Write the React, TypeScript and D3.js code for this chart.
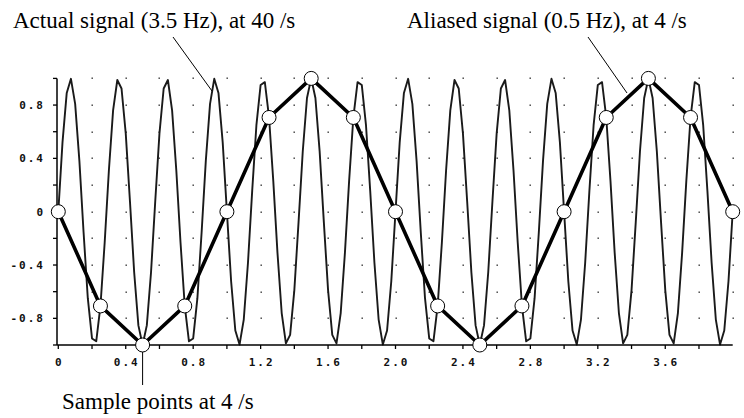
import React from "react";
import * as d3 from "d3";

// Actual signal (3.5 Hz) sampled at 40 /s, t = 0 .. 4 s
const actualValues: number[] = [
  0, 0.522, 0.891, 0.997, 0.809, 0.383, -0.156, -0.649, -0.951, -0.972,
  -0.707, -0.233, 0.309, 0.76, 0.988, 0.924, 0.588, 0.078, -0.454, -0.853,
  -1, -0.853, -0.454, 0.078, 0.588, 0.924, 0.988, 0.76, 0.309, -0.233,
  -0.707, -0.972, -0.951, -0.649, -0.156, 0.383, 0.809, 0.997, 0.891, 0.522,
  0, -0.522, -0.891, -0.997, -0.809, -0.383, 0.156, 0.649, 0.951, 0.972,
  0.707, 0.233, -0.309, -0.76, -0.988, -0.924, -0.588, -0.078, 0.454, 0.853,
  1, 0.853, 0.454, -0.078, -0.588, -0.924, -0.988, -0.76, -0.309, 0.233,
  0.707, 0.972, 0.951, 0.649, 0.156, -0.383, -0.809, -0.997, -0.891, -0.522,
  0, 0.522, 0.891, 0.997, 0.809, 0.383, -0.156, -0.649, -0.951, -0.972,
  -0.707, -0.233, 0.309, 0.76, 0.988, 0.924, 0.588, 0.078, -0.454, -0.853,
  -1, -0.853, -0.454, 0.078, 0.588, 0.924, 0.988, 0.76, 0.309, -0.233,
  -0.707, -0.972, -0.951, -0.649, -0.156, 0.383, 0.809, 0.997, 0.891, 0.522,
  0, -0.522, -0.891, -0.997, -0.809, -0.383, 0.156, 0.649, 0.951, 0.972,
  0.707, 0.233, -0.309, -0.76, -0.988, -0.924, -0.588, -0.078, 0.454, 0.853,
  1, 0.853, 0.454, -0.078, -0.588, -0.924, -0.988, -0.76, -0.309, 0.233,
  0.707, 0.972, 0.951, 0.649, 0.156, -0.383, -0.809, -0.997, -0.891, -0.522,
  0,
];
const actualRate = 40;

// Samples at 4 /s (aliased 0.5 Hz signal)
const sampleValues: number[] = [
  0, -0.707, -1, -0.707, 0, 0.707, 1, 0.707, 0, -0.707, -1, -0.707, 0, 0.707,
  1, 0.707, 0,
];
const sampleRate = 4;

const xTickValues: number[] = [
  0, 0.2, 0.4, 0.6, 0.8, 1.0, 1.2, 1.4, 1.6, 1.8, 2.0, 2.2, 2.4, 2.6, 2.8, 3.0,
  3.2, 3.4, 3.6, 3.8,
];
const xLabelValues: number[] = [0, 0.4, 0.8, 1.2, 1.6, 2.0, 2.4, 2.8, 3.2, 3.6];
const xLabelTexts: string[] = ["0", "0.4", "0.8", "1.2", "1.6", "2.0", "2.4", "2.8", "3.2", "3.6"];
const yTickValues: number[] = [-1, -0.8, -0.6, -0.4, -0.2, 0, 0.2, 0.4, 0.6, 0.8, 1];
const yLabelValues: number[] = [0.8, 0.4, 0, -0.4, -0.8];
const yLabelTexts: string[] = ["0.8", "0.4", "0", "-0.4", "-0.8"];
const gridX: number[] = [
  0.2, 0.4, 0.6, 0.8, 1.0, 1.2, 1.4, 1.6, 1.8, 2.0, 2.2, 2.4, 2.6, 2.8, 3.0, 3.2,
  3.4, 3.6, 3.8, 4.0,
];
const gridY: number[] = [-0.8, -0.6, -0.4, -0.2, 0, 0.2, 0.4, 0.6, 0.8, 1.0];

const actualLabel = "Actual signal (3.5 Hz), at 40 /s";
const aliasLabel = "Aliased signal (0.5 Hz), at 4 /s";
const sampleLabel = "Sample points at 4 /s";

export default function App() {
  const W = 744;
  const H = 418;
  const x = d3.scaleLinear().domain([0, 4]).range([58.3, 732.7]);
  const y = d3.scaleLinear().domain([-1, 1]).range([345, 78.4]);

  const actualLine = d3
    .line<number>()
    .x((_, i) => x(i / actualRate))
    .y((d) => y(d));
  const sampleLine = d3
    .line<number>()
    .x((_, i) => x(i / sampleRate))
    .y((d) => y(d));

  const axisX = x(0) - 1.3;
  const axisY = y(-1);
  const serif = "'Liberation Serif', 'Times New Roman', serif";
  const mono = "'DejaVu Sans Mono', monospace";

  return (
    <svg
      width={W}
      height={H}
      style={{ position: "absolute", left: 0, top: 0, background: "#fff" }}
    >
      <rect x={0} y={0} width={W} height={H} fill="#fff" />
      {/* grid dots */}
      {gridX.map((gx) =>
        gridY.map((gy) => (
          <rect
            key={`g${gx}_${gy}`}
            x={Math.round(x(gx)) - 0.5}
            y={Math.round(y(gy)) - 0.5}
            width={1.4}
            height={1.4}
            fill="#333"
          />
        ))
      )}
      {/* actual signal */}
      <path
        d={actualLine(actualValues) || ""}
        fill="none"
        stroke="#1a1a1a"
        strokeWidth={1.9}
        strokeLinejoin="round"
      />
      {/* axes */}
      <line x1={axisX} y1={y(1)} x2={axisX} y2={axisY} stroke="#000" strokeWidth={1.5} />
      <line x1={axisX} y1={axisY} x2={x(4)} y2={axisY} stroke="#000" strokeWidth={1.5} />
      {yTickValues.map((v) => (
        <line key={`yt${v}`} x1={axisX - 4} y1={y(v)} x2={axisX} y2={y(v)} stroke="#000" strokeWidth={1.3} />
      ))}
      {xTickValues.map((v) => (
        <line key={`xt${v}`} x1={x(v)} y1={axisY} x2={x(v)} y2={axisY + 4} stroke="#000" strokeWidth={1.3} />
      ))}
      {yLabelValues.map((v, i) => (
        <text
          key={`yl${v}`}
          x={45}
          y={y(v)}
          dy="0.35em"
          textAnchor="end"
          fontFamily={mono}
          fontSize={11}
          fontWeight="bold"
          letterSpacing={2}
          fill="#111"
        >
          {yLabelTexts[i]}
        </text>
      ))}
      {xLabelValues.map((v, i) => (
        <text
          key={`xl${v}`}
          x={x(v) + 1}
          y={362}
          dy="0.35em"
          textAnchor="middle"
          fontFamily={mono}
          fontSize={11}
          fontWeight="bold"
          letterSpacing={2}
          fill="#111"
        >
          {xLabelTexts[i]}
        </text>
      ))}
      {/* aliased signal */}
      <path
        d={sampleLine(sampleValues) || ""}
        fill="none"
        stroke="#000"
        strokeWidth={3.6}
        strokeLinejoin="round"
      />
      {/* annotations leader lines */}
      <line x1={173} y1={37} x2={212} y2={91} stroke="#000" strokeWidth={1} />
      <line x1={588} y1={37} x2={627} y2={93} stroke="#000" strokeWidth={1} />
      <line x1={x(0.5)} y1={axisY} x2={x(0.5)} y2={385} stroke="#000" strokeWidth={1} />
      {/* sample points */}
      {sampleValues.map((v, i) => (
        <circle
          key={`s${i}`}
          cx={x(i / sampleRate)}
          cy={y(v)}
          r={7}
          fill="#fff"
          stroke="#000"
          strokeWidth={1}
        />
      ))}
      <text x={13} y={28} fontFamily={serif} fontSize={23} fill="#000">
        {actualLabel}
      </text>
      <text x={407} y={28} fontFamily={serif} fontSize={23} fill="#000">
        {aliasLabel}
      </text>
      <text x={62} y={409} fontFamily={serif} fontSize={23} fill="#000">
        {sampleLabel}
      </text>
    </svg>
  );
}
